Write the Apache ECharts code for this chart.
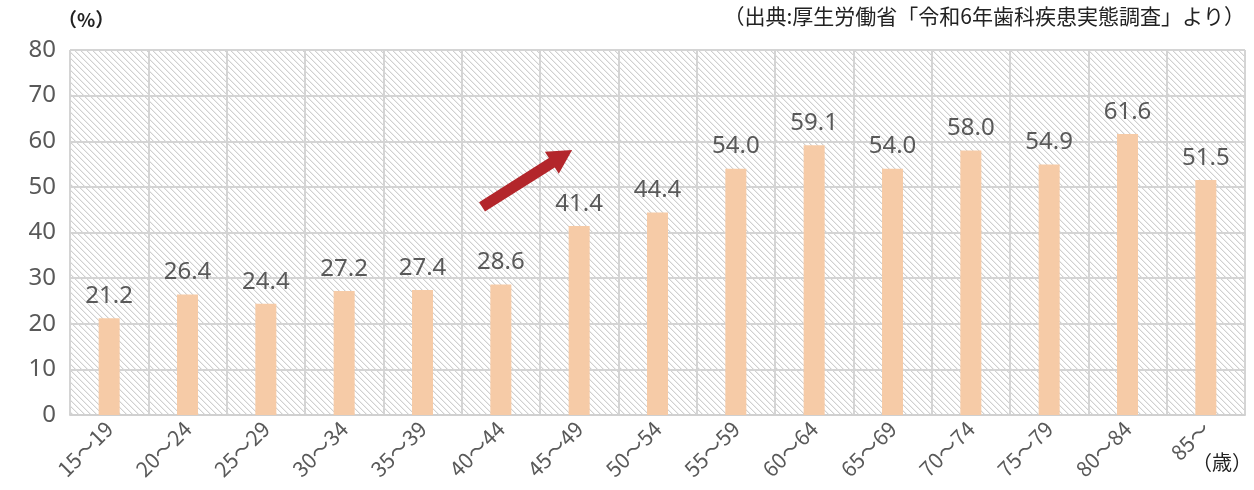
<!DOCTYPE html>
<html><head><meta charset="utf-8">
<script src="https://cdn.jsdelivr.net/npm/echarts@6/dist/echarts.min.js"></script>
<style>html,body{margin:0;padding:0;background:#fff}#c{width:1254px;height:490px}</style>
</head><body><div id="c"></div>
<script>
const categories = ['15～19','20～24','25～29','30～34','35～39','40～44','45～49','50～54','55～59','60～64','65～69','70～74','75～79','80～84','85～'];
const values = [21.2,26.4,24.4,27.2,27.4,28.6,41.4,44.4,54.0,59.1,54.0,58.0,54.9,61.6,51.5];
const yTicks = {min:0, max:80, interval:10};
const sourceText = '（出典:厚生労働省「令和6年歯科疾患実態調査」より）';
const unitY = '（%）';
const unitX = '（歳）';
// arrow annotation in data coords: [category index (fractional), value]
const arrowFrom = [4.76, 45.6];
const arrowTo = [5.91, 58.1];

function makePattern(){
  const n = 6;
  const cv = document.createElement('canvas');
  cv.width = n; cv.height = n;
  const ctx = cv.getContext('2d');
  ctx.fillStyle = '#ffffff'; ctx.fillRect(0,0,n,n);
  for (let i=0;i<n;i++){
    ctx.fillStyle = '#d0d0d0'; ctx.fillRect(i,i,1,1);
    ctx.fillStyle = '#eeeeee'; ctx.fillRect((i+1)%n,i,1,1);
  }
  return cv;
}

const font = '"Noto Sans", sans-serif';
const jfont = '"Noto Sans CJK JP", sans-serif';
const chart = echarts.init(document.getElementById('c'));
chart.setOption({
  animation:false,
  backgroundColor:'#fff',
  grid:{left:70,right:9,top:50,bottom:75,show:true,borderWidth:0,
    backgroundColor:{image:makePattern(),repeat:'repeat'}},
  xAxis:{type:'category',data:categories,
    axisLine:{lineStyle:{color:'#d0d0d0',width:2}},
    axisTick:{show:false},
    splitLine:{show:true,lineStyle:{color:'#d4d4d4',width:2}},
    axisLabel:{rotate:45,fontSize:21,color:'#595959',margin:10,fontFamily:jfont,interval:0}},
  yAxis:{type:'value',min:yTicks.min,max:yTicks.max,interval:yTicks.interval,
    axisLine:{show:false},axisTick:{show:false},
    splitLine:{lineStyle:{color:'#d4d4d4',width:2}},
    axisLabel:{fontSize:24,color:'#595959',margin:14,fontFamily:font}},
  series:[{type:'bar',data:values,barWidth:21,
    itemStyle:{color:'#F6CBA7'},
    label:{show:true,position:'top',distance:10,fontSize:24,color:'#595959',
      fontFamily:font,formatter:p=>p.value.toFixed(1)}}]
});

function px(pt){
  const i0 = Math.floor(pt[0]);
  const a = chart.convertToPixel({gridIndex:0},[i0,pt[1]]);
  const b = chart.convertToPixel({gridIndex:0},[i0+1,pt[1]]);
  const f = pt[0]-i0;
  return [a[0]+(b[0]-a[0])*f, a[1]];
}
const p0 = px(arrowFrom), p1 = px(arrowTo);
const dx = p1[0]-p0[0], dy = p1[1]-p0[1];
const L = Math.hypot(dx,dy);
const ux = dx/L, uy = dy/L, nx = -uy, ny = ux;
const sw = 5.5, hw = 13, hl = 24;
const hb = [p1[0]-ux*hl, p1[1]-uy*hl];
const pts = [
  [p0[0]+nx*sw,p0[1]+ny*sw],
  [hb[0]+nx*sw,hb[1]+ny*sw],
  [hb[0]+nx*hw,hb[1]+ny*hw],
  p1,
  [hb[0]-nx*hw,hb[1]-ny*hw],
  [hb[0]-nx*sw,hb[1]-ny*sw],
  [p0[0]-nx*sw,p0[1]-ny*sw]
];
chart.setOption({graphic:[
    {type:'text',right:9,top:6,style:{text:sourceText,fontSize:21,fill:'#222',fontFamily:jfont}},
    {type:'text',left:58,top:10,style:{text:unitY,fontSize:19,fontWeight:'bold',fill:'#222',fontFamily:jfont}},
    {type:'text',right:2,top:452,style:{text:unitX,fontSize:20,fill:'#222',fontFamily:jfont}},
    {type:'polygon',shape:{points:pts},style:{fill:'#B3262B'},z:10}]});
</script></body></html>
